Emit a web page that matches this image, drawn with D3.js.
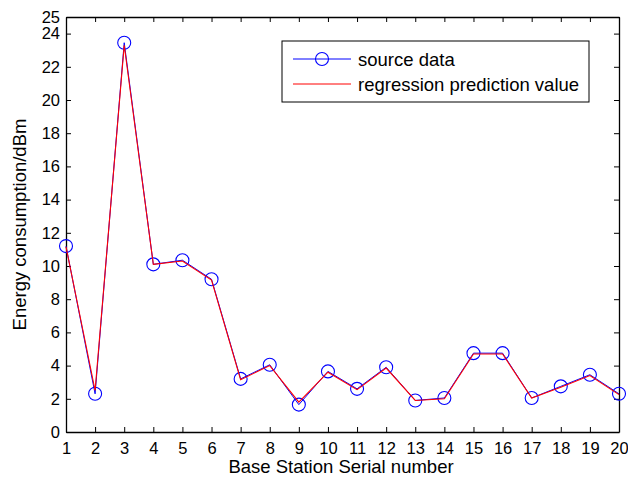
<!DOCTYPE html>
<html>
<head>
<meta charset="utf-8">
<script src="https://cdn.jsdelivr.net/npm/d3@7"></script>
<style>
  body { margin: 0; background: #fff; }
  text { font-family: "Liberation Sans", Arial, sans-serif; fill: #000; }
</style>
</head>
<body>
<div id="chart"></div>
<script>
const stations = d3.range(1, 21);
const sourceData = [11.2, 2.3, 23.45, 10.1, 10.35, 9.2, 3.2, 4.05, 1.65, 3.65,
                    2.6, 3.9, 1.9, 2.05, 4.75, 4.75, 2.05, 2.75, 3.45, 2.3];
const predicted = [11.15, 2.5, 23.3, 10.1, 10.3, 9.15, 3.15, 4.0, 1.8, 3.6,
                   2.55, 3.85, 1.9, 2.0, 4.7, 4.7, 2.05, 2.7, 3.4, 2.25];
const yTicks = [0, 2, 4, 6, 8, 10, 12, 14, 16, 18, 20, 22, 24, 25];

const width = 628, height = 482;
const margin = { left: 66, right: 9, top: 17, bottom: 50 };

const svg = d3.select('#chart').append('svg')
  .attr('width', width)
  .attr('height', height);

const x = d3.scaleLinear().domain([1, 20]).range([margin.left, width - margin.right]);
const y = d3.scaleLinear().domain([0, 25]).range([height - margin.bottom, margin.top]);

const x0 = x.range()[0], x1 = x.range()[1];
const y0 = y.range()[0], y1 = y.range()[1];

// eje inferior / izquierdo con ticks hacia dentro
const xAxis = svg.append('g')
  .attr('transform', `translate(0,${y0})`)
  .call(d3.axisBottom(x).tickValues(stations).tickSizeInner(-5).tickSizeOuter(0).tickPadding(10));
const yAxis = svg.append('g')
  .attr('transform', `translate(${x0},0)`)
  .call(d3.axisLeft(y).tickValues(yTicks).tickSizeInner(-5).tickSizeOuter(0).tickPadding(6));
const xTop = svg.append('g')
  .attr('transform', `translate(0,${y1})`)
  .call(d3.axisTop(x).tickValues(stations).tickSizeInner(-5).tickSizeOuter(0).tickFormat(''));
const yRight = svg.append('g')
  .attr('transform', `translate(${x1},0)`)
  .call(d3.axisRight(y).tickValues(yTicks).tickSizeInner(-5).tickSizeOuter(0).tickFormat(''));

[xAxis, yAxis, xTop, yRight].forEach(g => {
  g.select('.domain').attr('stroke', '#000').attr('stroke-width', 1.3);
  g.selectAll('.tick line').attr('stroke', '#000');
  g.selectAll('text').attr('font-size', 16.5).attr('font-family', '"Liberation Sans", Arial, sans-serif');
});

const line = d3.line().x((d, i) => x(stations[i])).y(d => y(d));

svg.append('path')
  .datum(sourceData)
  .attr('fill', 'none')
  .attr('stroke', '#0000ff')
  .attr('stroke-width', 1)
  .attr('d', line);

svg.append('g')
  .selectAll('circle')
  .data(sourceData)
  .enter().append('circle')
  .attr('cx', (d, i) => x(stations[i]))
  .attr('cy', d => y(d))
  .attr('r', 6.5)
  .attr('fill', 'none')
  .attr('stroke', '#0000ff')
  .attr('stroke-width', 1.1);

svg.append('path')
  .datum(predicted)
  .attr('fill', 'none')
  .attr('stroke', '#ff0000')
  .attr('stroke-width', 1.1)
  .attr('d', line);

// etiquetas
svg.append('text')
  .attr('x', 341)
  .attr('y', 473)
  .attr('text-anchor', 'middle')
  .attr('font-size', 18.5)
  .text('Base Station Serial number');

svg.append('text')
  .attr('transform', `translate(26,${(y0 + y1) / 2}) rotate(-90)`)
  .attr('text-anchor', 'middle')
  .attr('font-size', 18.5)
  .text('Energy consumption/dBm');

// leyenda
const legend = svg.append('g').attr('transform', 'translate(282,41)');
legend.append('rect')
  .attr('width', 307).attr('height', 61)
  .attr('fill', '#fff').attr('stroke', '#000').attr('stroke-width', 1);
legend.append('line')
  .attr('x1', 11).attr('x2', 69).attr('y1', 18).attr('y2', 18)
  .attr('stroke', '#0000ff');
legend.append('circle')
  .attr('cx', 40).attr('cy', 18).attr('r', 6.5)
  .attr('fill', 'none').attr('stroke', '#0000ff').attr('stroke-width', 1.1);
legend.append('line')
  .attr('x1', 11).attr('x2', 69).attr('y1', 43).attr('y2', 43)
  .attr('stroke', '#ff0000');
legend.append('text').attr('x', 76).attr('y', 24.5).attr('font-size', 18.5).text('source data');
legend.append('text').attr('x', 76).attr('y', 49.5).attr('font-size', 18.5).text('regression prediction value');
</script>
</body>
</html>
